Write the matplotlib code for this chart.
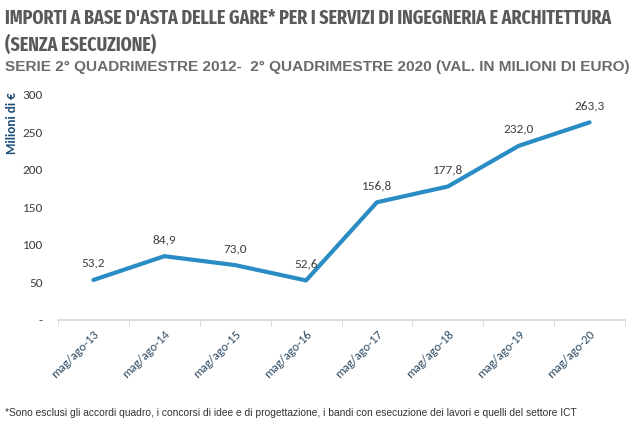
import matplotlib
matplotlib.use("Agg")
import matplotlib.pyplot as plt

categories = ["mag/ago-13", "mag/ago-14", "mag/ago-15", "mag/ago-16",
              "mag/ago-17", "mag/ago-18", "mag/ago-19", "mag/ago-20"]
values = [53.2, 84.9, 73.0, 52.6, 156.8, 177.8, 232.0, 263.3]
yticks = [0, 50, 100, 150, 200, 250, 300]
ytick_labels = ["-", "50", "100", "150", "200", "250", "300"]

cal = ["Carlito", "Open Sans", "DejaVu Sans"]
cond = ["Fira Sans Extra Condensed", "Roboto Condensed", "DejaVu Sans"]

fig = plt.figure(figsize=(6.4, 4.37), dpi=100)
ax = fig.add_axes([0.0906, 0.268, 0.886, 0.515])

x = list(range(len(categories)))
ax.plot(x, values, color="#2a8cc4", lw=3.0, solid_capstyle="round", solid_joinstyle="round")
for xi, v in zip(x, values):
    ax.annotate(f"{v:.1f}".replace(".", ","), (xi, v), xytext=(0, 8),
                textcoords="offset points", ha="center", va="bottom",
                fontsize=9.5, color="#404040", family=cal)

ax.set_xlim(-0.5, len(categories) - 0.5)
ax.set_ylim(0, 300)
ax.set_yticks(yticks)
ax.set_yticklabels(ytick_labels, fontsize=9.5, color="#404040", family=cal)
ax.tick_params(axis="y", length=0, pad=11)
ax.set_xticks(x)
ax.set_xticklabels(categories, rotation=45, ha="right", rotation_mode="anchor",
                   fontsize=9, color="#2d4a63", family=cal)
ax.tick_params(axis="x", length=0, pad=6)
ax.set_xticks([i - 0.5 for i in range(len(categories) + 1)], minor=True)
ax.tick_params(axis="x", which="minor", length=4, color="#d0d7dd", direction="out")
for s in ["top", "right", "left"]:
    ax.spines[s].set_visible(False)
ax.spines["bottom"].set_color("#d0d7dd")
ax.spines["bottom"].set_linewidth(1.2)

fig.text(0.010, 0.79, "Milioni di €", rotation=90, ha="left", va="top",
         fontsize=9.5, fontweight="bold", color="#1f4e79", family=cal)

fig.text(0.008, 0.980, "IMPORTI A BASE D'ASTA DELLE GARE* PER I SERVIZI DI INGEGNERIA E ARCHITETTURA",
         ha="left", va="top", fontsize=14, fontweight="bold", color="#5a5a5a", family=cond)
fig.text(0.008, 0.922, "(SENZA ESECUZIONE)",
         ha="left", va="top", fontsize=14, fontweight="bold", color="#5a5a5a", family=cond)
fig.text(0.008, 0.862, "SERIE 2° QUADRIMESTRE 2012-  2° QUADRIMESTRE 2020 (VAL. IN MILIONI DI EURO)",
         ha="left", va="top", fontsize=11.1, fontweight="bold", color="#6b6b6b", family="Liberation Sans")
fig.text(0.008, 0.055, "*Sono esclusi gli accordi quadro, i concorsi di idee e di progettazione, i bandi con esecuzione dei lavori e quelli del settore ICT",
         ha="left", va="center", fontsize=7.4, color="#333333", family="Liberation Sans")

fig.savefig("out.png", dpi=100, facecolor="white")
